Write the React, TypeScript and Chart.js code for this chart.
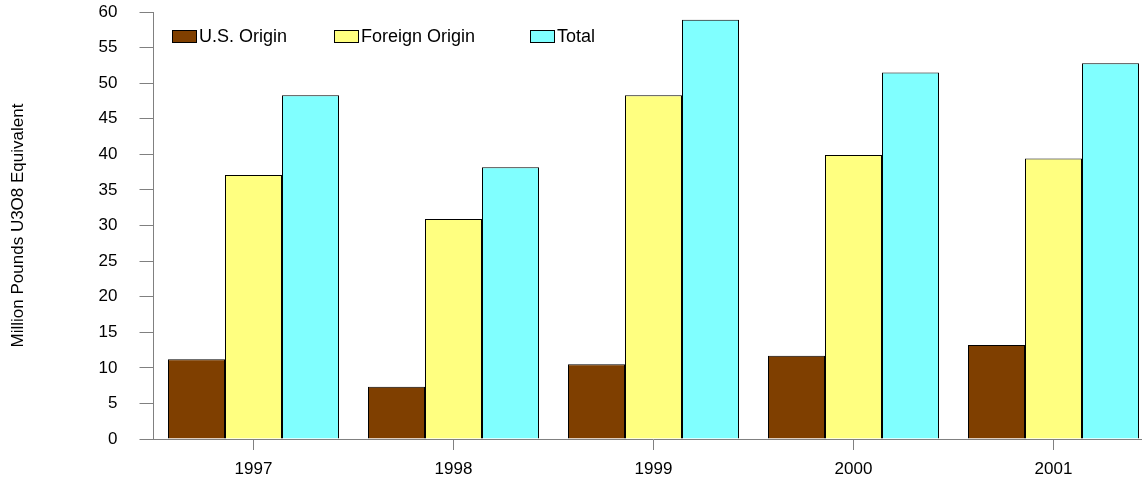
import React, { useEffect, useRef } from "react";
import { Chart, registerables } from "chart.js";

Chart.register(...registerables);

const years = ["1997", "1998", "1999", "2000", "2001"];
const usOrigin = [11.2, 7.35, 10.5, 11.7, 13.2];
const foreignOrigin = [37.1, 30.9, 48.3, 39.9, 39.4];
const total = [48.3, 38.2, 58.9, 51.5, 52.8];
const seriesNames = ["U.S. Origin", "Foreign Origin", "Total"];
const seriesColors = ["#7F3F00", "#FFFF80", "#80FFFF"];
const yTitle = "Million Pounds U3O8 Equivalent";

const FONT = "'Liberation Sans', Arial, sans-serif";

export default function App() {
  const ref = useRef<HTMLCanvasElement | null>(null);

  useEffect(() => {
    if (!ref.current) return;
    const values = [usOrigin, foreignOrigin, total];
    const chart = new Chart(ref.current, {
      type: "bar",
      data: {
        labels: years,
        datasets: values.map((d, i) => ({
          label: seriesNames[i],
          data: d,
          backgroundColor: seriesColors[i],
          borderColor: "#000000",
          borderWidth: 1,
          barPercentage: 1,
          categoryPercentage: 0.855,
        })),
      },
      options: {
        responsive: false,
        animation: false,
        devicePixelRatio: 1,
        layout: { padding: { top: 12, right: 6.5, left: 0, bottom: 0 } },
        plugins: {
          legend: { display: false },
          tooltip: { enabled: false },
        },
        scales: {
          x: {
            grid: {
              offset: false,
              drawOnChartArea: false,
              drawTicks: true,
              tickLength: 11,
              color: "#808080",
            },
            border: { color: "#808080", width: 1 },
            ticks: {
              color: "#000",
              padding: 9,
              font: { family: FONT, size: 17 },
            },
            afterFit: (s: any) => {
              s.height = 44;
              s.paddingLeft = 0;
              s.paddingRight = 0;
            },
          },
          y: {
            min: 0,
            max: 60,
            ticks: {
              stepSize: 5,
              color: "#000",
              padding: 22,
              font: { family: FONT, size: 17 },
            },
            grid: {
              drawOnChartArea: false,
              drawTicks: true,
              tickLength: 14,
              color: "#808080",
            },
            border: { color: "#808080", width: 1 },
            title: {
              display: true,
              text: yTitle,
              color: "#000",
              font: { family: FONT, size: 17 },
              padding: { top: 8, bottom: 4 },
            },
            afterFit: (s: any) => {
              s.width = 153.5;
              s.paddingTop = 0;
              s.paddingBottom = 0;
            },
          },
        },
      },
    });
    return () => chart.destroy();
  }, []);

  const legendItems = [
    { x: 172, text: seriesNames[0], color: seriesColors[0] },
    { x: 334, text: seriesNames[1], color: seriesColors[1] },
    { x: 530, text: seriesNames[2], color: seriesColors[2] },
  ];

  return (
    <div
      style={{
        position: "fixed",
        left: 0,
        top: 0,
        width: 1142,
        height: 483,
        overflow: "hidden",
        background: "#fff",
      }}
    >
      <canvas ref={ref} width={1160} height={483} style={{ width: 1160, height: 483, display: "block" }} />
      {legendItems.map((it) => (
        <div
          key={it.text}
          style={{
            position: "absolute",
            left: it.x,
            top: 26,
            display: "flex",
            alignItems: "center",
            fontFamily: FONT,
            fontSize: 18,
            color: "#000",
            whiteSpace: "nowrap",
            height: 20,
          }}
        >
          <span
            style={{
              display: "inline-block",
              width: 23,
              height: 11,
              background: it.color,
              border: "1px solid #000",
              marginRight: 2,
            }}
          />
          <span>{it.text}</span>
        </div>
      ))}
    </div>
  );
}
